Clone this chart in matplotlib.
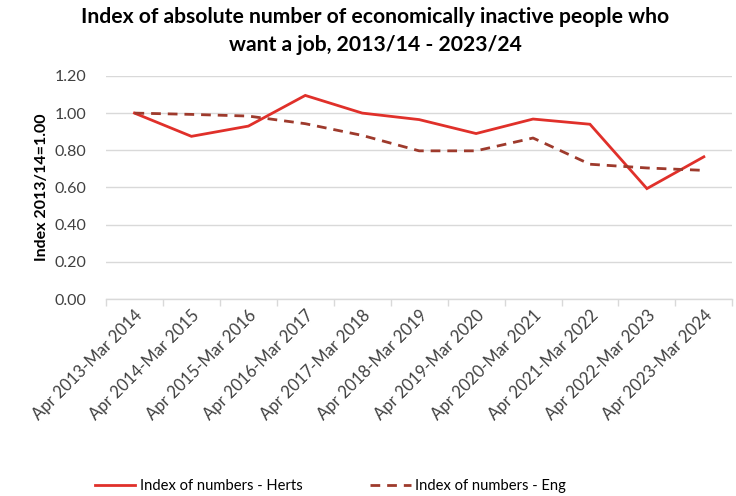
import matplotlib
matplotlib.use("Agg")
import matplotlib.pyplot as plt
from matplotlib.lines import Line2D

categories = ["Apr 2013-Mar 2014", "Apr 2014-Mar 2015", "Apr 2015-Mar 2016",
              "Apr 2016-Mar 2017", "Apr 2017-Mar 2018", "Apr 2018-Mar 2019",
              "Apr 2019-Mar 2020", "Apr 2020-Mar 2021", "Apr 2021-Mar 2022",
              "Apr 2022-Mar 2023", "Apr 2023-Mar 2024"]
herts = [1.00, 0.875, 0.93, 1.095, 1.00, 0.965, 0.89, 0.968, 0.94, 0.594, 0.765]
eng = [1.00, 0.993, 0.984, 0.943, 0.88, 0.797, 0.797, 0.866, 0.725, 0.705, 0.692]
yticks = [0.0, 0.2, 0.4, 0.6, 0.8, 1.0, 1.2]

title = "Index of absolute number of economically inactive people who\nwant a job, 2013/14 - 2023/24"
ylabel = "Index 2013/14=1.00"
herts_label = "Index of numbers - Herts"
eng_label = "Index of numbers - Eng"

plt.rcParams['font.family'] = ['Lato', 'DejaVu Sans']

fig = plt.figure(figsize=(7.36, 4.96), dpi=100)
ax = fig.add_axes([0.144, 0.397, 0.851, 0.45])

x = list(range(len(categories)))
herts_color = "#E0302A"
eng_color = "#9E3A2C"
ax.plot(x, herts, color=herts_color, lw=2.0, solid_joinstyle='miter', zorder=3)
ax.plot(x, eng, color=eng_color, lw=2.0, linestyle=(0, (3.5, 2.5)), zorder=3)

ax.set_ylim(0, 1.2)
ax.set_xlim(-0.5, len(categories) - 0.5)
ax.set_yticks(yticks)
ax.set_yticklabels([f"{v:.2f}" for v in yticks], fontsize=11.5, color="#404040")
ax.grid(axis='y', color="#D9D9D9", lw=1.0)
ax.set_axisbelow(True)

ax.set_xticks(x)
ax.set_xticklabels(categories, rotation=45, ha='right', rotation_mode='anchor',
                   fontsize=12, color="#404040")
ax.tick_params(axis='x', which='major', length=0, pad=6)
ax.set_xticks([i - 0.5 for i in range(len(categories) + 1)], minor=True)
ax.tick_params(axis='x', which='minor', length=5, color="#D9D9D9", width=1)
ax.tick_params(axis='y', length=0, pad=14)

for s in ['top', 'right', 'left']:
    ax.spines[s].set_visible(False)
ax.spines['bottom'].set_color("#D9D9D9")
ax.spines['bottom'].set_linewidth(1.0)

ax.set_ylabel(ylabel, fontsize=11.5, fontweight='bold', color="#000000", labelpad=4)

fig.text(0.51, 0.986, title, ha='center', va='top', fontsize=15.2, fontweight='bold',
         linespacing=1.5)

handles = [Line2D([0], [0], color=herts_color, lw=2.0),
           Line2D([0], [0], color=eng_color, lw=2.0, linestyle=(0, (3.5, 2.5)))]
fig.legend(handles, [herts_label, eng_label], loc='center left',
           bbox_to_anchor=(0.129, 0.02), ncol=2, frameon=False, fontsize=10.6,
           handlelength=2.75, handletextpad=0.3, columnspacing=4.6,
           borderpad=0, borderaxespad=0)

fig.savefig("out.png", dpi=100)
